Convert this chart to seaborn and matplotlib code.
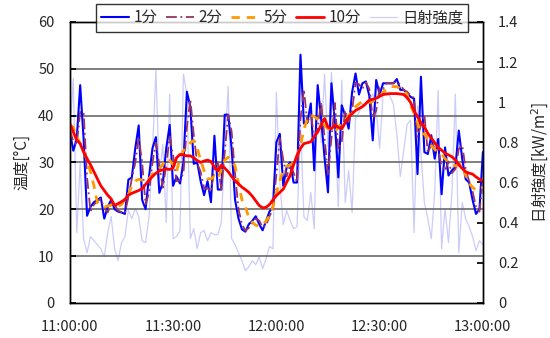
import numpy as np
import matplotlib
matplotlib.use("Agg")
import matplotlib.pyplot as plt
import seaborn as sns

# minutes after 11:00 (one sample per minute)
minutes = np.arange(121)

temp_1min = [36.6, 32.5, 35, 46.5, 35, 18.6, 20.5, 21.5, 22, 22.5,
             18, 20.5, 22, 20, 19.5, 19.3, 19, 26.3, 26.8, 33,
             37.9, 22, 20, 27, 33, 35.4, 23.5, 25.7, 33, 38,
             25, 27, 25.5, 30, 45.1, 41.9, 29.7, 30, 26, 23,
             26, 21.5, 35.7, 24.2, 24.2, 40.2, 40.2, 33, 22, 18,
             15.7, 15.2, 16.8, 17.5, 18.5, 16.8, 15.5, 17.5, 19.5, 20.5,
             34.3, 36.1, 25, 29, 30, 25.7, 25.7, 53, 38.3, 38.5,
             42.6, 28.3, 46.5, 39.4, 31, 23.6, 46.9, 38.6, 26.8, 42.2,
             40, 37.2, 45, 49, 44.5, 46.9, 47.3, 44.2, 34.7, 47.6,
             44.5, 46.9, 46.9, 46.9, 46.9, 47.8, 45.5, 45.5, 44.7, 44,
             43.6, 27.5, 48.3, 32.2, 31.8, 35.8, 30.8, 35, 23.2, 33.2,
             27.2, 28.3, 29, 36.8, 30.7, 26.4, 25.7, 22, 19, 20,
             32.2]

temp_2min = [37, 34.5, 33.8, 40.8, 40.7, 26.8, 19.5, 21, 21.7, 22.2,
             20.2, 19.3, 21.2, 21, 19.7, 19.4, 19.1, 22.6, 26.5, 29.9,
             35.4, 30, 21, 23.5, 30, 34.2, 29.4, 24.6, 29.3, 35.5,
             31.5, 26, 26.2, 27.7, 37.5, 43.5, 35.8, 29.8, 28, 24.5,
             24.5, 23.7, 28.6, 30, 24.2, 32.2, 40.2, 36.6, 27.5, 20,
             16.8, 15.4, 16, 17.1, 18, 17.6, 16.1, 16.5, 18.5, 20,
             27.4, 35.2, 30.5, 27, 29.5, 27.8, 25.7, 39.3, 45.6, 38.4,
             40.5, 35.4, 37.4, 42.9, 35.2, 27.3, 35.2, 42.7, 32.7, 34.5,
             41.1, 38.6, 41.1, 47, 46.7, 45.7, 47.1, 45.7, 39.4, 41.1,
             46, 45.7, 46.9, 46.9, 46.9, 47.3, 46.6, 45.5, 45.1, 44.3,
             43.8, 35.5, 37.9, 40.2, 32, 33.8, 33.3, 32.9, 29.1, 28.2,
             30.2, 27.7, 28.6, 32.9, 33.7, 28.5, 26, 23.8, 20.5, 19.5,
             26.1]

temp_5min = [38, 37.5, 35.5, 34, 32.5, 30.5, 28, 25, 21.4, 20.8,
             20.5, 20.7, 20.9, 20.5, 20.6, 21, 22, 23.2, 25, 26,
             26.4, 26.2, 25.8, 26.5, 27.5, 28, 28.7, 29.5, 30.8, 30.5,
             29.5, 28, 31, 32.5, 33.5, 34.2, 34.7, 33, 30.5, 28.2,
             26.5, 26.5, 27, 26.4, 28.5, 30.5, 31.1, 30.2, 29.3, 25.5,
             22, 20.5, 18.2, 17.2, 16.6, 16.4, 16.6, 17.5, 18.6, 20.5,
             23.5, 26, 28.5, 29.2, 29.5, 29.8, 31.5, 33.6, 37, 39.4,
             40.1, 39.8, 39.2, 38.6, 38, 37.2, 36.8, 36.5, 37.5, 38.5,
             39, 40, 41, 41.9, 42.5, 43, 43.3, 42.8, 43, 43.7,
             44, 45, 45.6, 46.2, 46.2, 46.2, 45.7, 45.3, 44.5, 42.2,
             40.5, 38.5, 36.1, 36.1, 35, 33.6, 32.8, 32.2, 31.8, 30.8,
             30, 29.5, 29.3, 29.5, 29.7, 27.2, 25.5, 24.7, 24, 24.3,
             24.7]

temp_10min = [38.3, 36.5, 34.8, 34, 32.2, 30.8, 29.5, 28, 26.5, 25,
              24, 23, 22.2, 20.8, 21.2, 21.6, 22.1, 23, 23.4, 23.7,
              24, 24.4, 25.3, 26.2, 27, 27.7, 28.2, 28.4, 28.6, 28.5,
              28.8, 31, 31.7, 31.6, 31.4, 31.4, 31, 30.4, 30, 30.3,
              30.5, 30.2, 29, 28.2, 29.4, 28.8, 28, 27, 26.1, 25.4,
              24.7, 24.2, 23.6, 22.8, 21.8, 20.8, 20.3, 20.4, 21, 22,
              22.9, 23.6, 24.3, 25.8, 27.2, 29.5, 31.5, 33, 34, 34.2,
              34.4, 35.5, 36.5, 38, 39.4, 37.5, 37.2, 38, 37.5, 37.2,
              38.5, 39.7, 40.4, 41.1, 41.5, 41.9, 42.6, 43.3, 43.5, 43.7,
              44.1, 44.5, 44.6, 44.7, 44.7, 44.7, 44.6, 44.5, 43.8, 42.8,
              41, 39.8, 38.5, 37.6, 36.2, 35.2, 34.2, 33.2, 32.6, 32,
              31.6, 31.2, 30.5, 29.5, 28.7, 28, 27.7, 27.5, 26.9, 26.4,
              26]

solar = [0.83, 1.12, 0.35, 0.70, 0.32, 0.25, 0.33, 0.31, 0.29, 0.27,
         0.23, 0.35, 0.43, 0.27, 0.21, 0.30, 0.33, 0.46, 0.42, 0.47,
         0.43, 0.31, 0.30, 0.43, 0.75, 1.16, 0.62, 0.79, 0.40, 1.04,
         0.32, 0.33, 0.36, 1.14, 1.04, 0.32, 0.37, 0.27, 0.35, 0.36,
         0.31, 0.35, 0.34, 0.34, 0.40, 0.77, 1.08, 0.32, 0.29, 0.25,
         0.21, 0.16, 0.18, 0.21, 0.19, 0.23, 0.17, 0.22, 0.28, 0.27,
         1.05, 0.60, 0.39, 0.46, 0.41, 0.37, 0.38, 0.90, 0.43, 0.41,
         0.55, 0.37, 1.09, 0.80, 1.14, 0.78, 1.15, 0.86, 0.48, 1.11,
         0.50, 0.66, 0.45, 0.92, 0.95, 0.99, 0.98, 1.01, 1.04, 0.97,
         0.77, 1.04, 1.05, 1.03, 0.99, 0.84, 0.63, 0.76, 0.89, 0.91,
         0.35, 0.98, 0.75, 0.50, 0.42, 0.32, 0.55, 1.06, 0.27, 0.47,
         0.30, 0.55, 1.04, 0.25, 0.50, 0.42, 0.38, 0.33, 0.26, 0.31,
         0.29]

tick_pos = [0, 30, 60, 90, 120]
tick_labels = ["11:00:00", "11:30:00", "12:00:00", "12:30:00", "13:00:00"]
solar_ticks = [0, 0.2, 0.4, 0.6, 0.8, 1.0, 1.2, 1.4]
solar_tick_labels = ["0", "0.2", "0.4", "0.6", "0.8", "1", "1.2", "1.4"]

sns.set_theme(style="white")
plt.rcParams['font.family'] = ['Noto Sans CJK JP', 'DejaVu Sans']
plt.rcParams['axes.unicode_minus'] = False

fig = plt.figure(figsize=(5.5, 3.38), dpi=100)
ax = fig.add_axes([0.127, 0.104, 0.751, 0.831])
ax2 = ax.twinx()

# solar radiation behind the temperature lines
sns.lineplot(x=minutes, y=solar, ax=ax2, color="#CCCCFA", linewidth=0.9, label="日射強度")
sns.lineplot(x=minutes, y=temp_1min, ax=ax, color="#0000FF", linewidth=1.5, label="1分")
sns.lineplot(x=minutes, y=temp_2min, ax=ax, color="#993366", linewidth=1.3,
             linestyle=(0, (6, 2, 1, 2)), label="2分")
sns.lineplot(x=minutes, y=temp_5min, ax=ax, color="#FF9900", linewidth=2.0,
             linestyle=(0, (3, 2.5)), label="5分")
sns.lineplot(x=minutes, y=temp_10min, ax=ax, color="#FF0000", linewidth=2.0, label="10分")

ax.set_zorder(ax2.get_zorder() + 1)
ax.patch.set_visible(False)

ax.set_xlim(0, 120)
ax.set_ylim(0, 60)
ax2.set_ylim(0, 1.4)
ax.set_xticks(tick_pos)
ax.set_xticklabels(tick_labels)
ax.set_yticks(range(0, 61, 10))
ax2.set_yticks(solar_ticks)
ax2.set_yticklabels(solar_tick_labels)

for y in range(10, 60, 10):
    ax.axhline(y, color="#6a6a6a", linewidth=1.2, zorder=0)

for a in (ax, ax2):
    for s in a.spines.values():
        s.set_color("black")
        s.set_linewidth(1.0)
ax.tick_params(axis="x", direction="in", length=4, color="black", labelsize=10.5, pad=12)
ax.tick_params(axis="y", direction="in", length=4, color="black", labelsize=10.5, left=True, pad=11)
ax2.tick_params(axis="y", direction="in", length=4, color="black", labelsize=10.5, right=True, pad=11)

ax.set_xlabel("")
ax.set_ylabel("温度[°C]", fontsize=11, labelpad=6)
ax2.set_ylabel("日射強度[kW/m$^2$]", fontsize=11, labelpad=8)

h1, l1 = ax.get_legend_handles_labels()
h2, l2 = ax2.get_legend_handles_labels()
if ax2.get_legend():
    ax2.get_legend().remove()
leg = ax.legend(h1 + h2, l1 + l2, ncol=5, loc="upper center",
                bbox_to_anchor=(0.514, 1.064), borderaxespad=0, frameon=True,
                fancybox=False, edgecolor="black", fontsize=11, handlelength=1.8,
                handletextpad=0.3, columnspacing=0.6, borderpad=0.35)
leg.get_frame().set_linewidth(1.0)

fig.savefig("out.png", dpi=100)
